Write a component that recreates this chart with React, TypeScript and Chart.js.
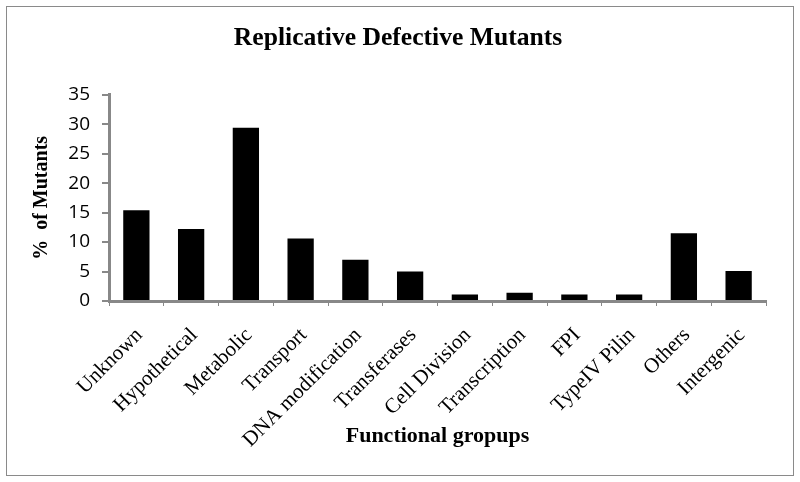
import React, { useEffect, useRef } from "react";
import { Chart, registerables } from "chart.js";

Chart.register(...registerables);

const categories = [
  "Unknown",
  "Hypothetical",
  "Metabolic",
  "Transport",
  "DNA modification",
  "Transferases",
  "Cell Division",
  "Transcription",
  "FPI",
  "TypeIV Pilin",
  "Others",
  "Intergenic",
];
const percentMutants = [15.4, 12.2, 29.4, 10.6, 7.0, 5.0, 1.1, 1.4, 1.1, 1.1, 11.5, 5.1];
const yTicks = { min: 0, max: 35, step: 5 };

const titleText = "Replicative Defective Mutants";
const xTitle = "Functional gropups";
const yTitle = "%  of Mutants";

const W = 786;
const H = 468;

export default function App() {
  const ref = useRef<HTMLCanvasElement | null>(null);
  useEffect(() => {
    if (!ref.current) return;
    const chart = new Chart(ref.current, {
      type: "bar",
      data: {
        labels: categories,
        datasets: [
          {
            data: percentMutants,
            backgroundColor: "#000000",
            borderWidth: 0,
            barPercentage: 0.48,
            categoryPercentage: 1,
          },
        ],
      },
      options: {
        animation: false,
        responsive: false,
        maintainAspectRatio: false,
        layout: { padding: { left: 23, right: 27, top: 0, bottom: 0 } },
        plugins: {
          legend: { display: false },
          tooltip: { enabled: false },
          title: {
            display: true,
            text: titleText,
            color: "#000",
            font: { family: "Liberation Serif", size: 25.6, weight: "bold" },
            padding: { top: 16, bottom: 41 },
          },
        },
        scales: {
          x: {
            afterFit: (s: any) => {
              s.height = 174;
            },
            grid: {
              display: true,
              drawOnChartArea: false,
              drawTicks: true,
              tickLength: 5,
              color: "#888",
            },
            border: { display: true, color: "#888", width: 3 },
            ticks: {
              color: "#000",
              font: { family: "Liberation Serif", size: 21 },
              minRotation: 45,
              maxRotation: 45,
              autoSkip: false,
              padding: 17,
              labelOffset: 3,
            },
            title: {
              display: true,
              text: xTitle,
              color: "#000",
              font: { family: "Liberation Serif", size: 22, weight: "bold" },
              padding: { top: 4, bottom: 25 },
            },
          },
          y: {
            min: yTicks.min,
            max: yTicks.max,
            afterFit: (s: any) => {
              s.width = 79;
            },
            grid: {
              display: true,
              drawOnChartArea: false,
              drawTicks: true,
              tickLength: 7,
              color: "#888",
              lineWidth: 2,
            },
            border: { display: true, color: "#888", width: 3 },
            ticks: {
              stepSize: yTicks.step,
              color: "#000",
              font: { family: "Open Sans", size: 19 },
              padding: 12,
            },
            title: {
              display: true,
              text: yTitle,
              color: "#000",
              font: { family: "Liberation Serif", size: 20, weight: "bold" },
              padding: { top: 0, bottom: 0 },
            },
          },
        },
      },
    });
    return () => chart.destroy();
  }, []);
  return (
    <div
      style={{
        position: "absolute",
        left: 6,
        top: 6,
        width: W + 2,
        height: H + 2,
        boxSizing: "border-box",
        border: "1px solid #8a8a8a",
        background: "#fff",
      }}
    >
      <canvas ref={ref} width={W} height={H} style={{ display: "block" }} />
    </div>
  );
}
